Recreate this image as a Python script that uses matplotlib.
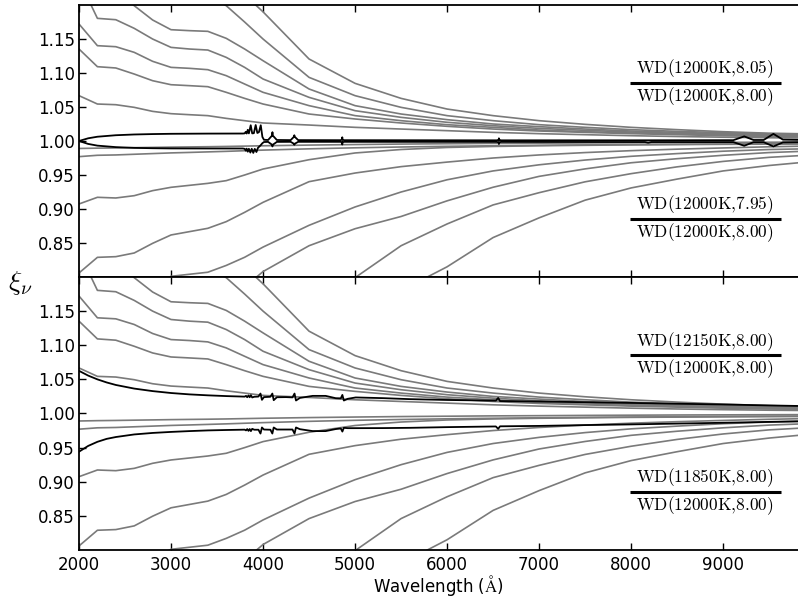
import matplotlib

matplotlib.use("Agg")
import matplotlib.pyplot as plt

plt.rcParams["mathtext.fontset"] = "cm"
plt.rcParams["font.family"] = "DejaVu Sans"
plt.rcParams["font.size"] = 12

# wavelength grid (Angstrom) of the background ratio curves
grid = [2000, 2200, 2400, 2600, 2800, 3000, 3200, 3400, 3600, 3800, 4000,
        4500, 5000, 5500, 6000, 6500, 7000, 7500, 8000, 8500, 9000, 9500, 9900]

# background family, above unity
bg_up1 = [1.0667, 1.0544, 1.0534, 1.0495, 1.0436, 1.0402, 1.0387, 1.0373, 1.0333, 1.0299, 1.0265,
          1.0235, 1.0201, 1.0176, 1.0152, 1.0127, 1.0108, 1.0093, 1.0078, 1.0066, 1.0056, 1.0048, 1.0044]
bg_up2 = [1.1353, 1.1093, 1.1074, 1.0985, 1.0887, 1.0828, 1.0814, 1.0799, 1.0716, 1.0627, 1.0544,
          1.0397, 1.0324, 1.0265, 1.0216, 1.0176, 1.0147, 1.0127, 1.0108, 1.0093, 1.0078, 1.0066, 1.0060]
bg_up3 = [1.1721, 1.1402, 1.1387, 1.1304, 1.1172, 1.1083, 1.1069, 1.1049, 1.0961, 1.0838, 1.0716,
          1.0520, 1.0373, 1.0299, 1.0240, 1.0201, 1.0162, 1.0137, 1.0118, 1.0103, 1.0088, 1.0075, 1.0068]
bg_up4 = [1.2370, 1.1804, 1.1784, 1.1657, 1.1500, 1.1377, 1.1353, 1.1338, 1.1230, 1.1083, 1.0912,
          1.0642, 1.0446, 1.0348, 1.0275, 1.0225, 1.0186, 1.0157, 1.0132, 1.0113, 1.0098, 1.0084, 1.0076]
bg_up5 = [1.2900, 1.2300, 1.2250, 1.1990, 1.1780, 1.1637, 1.1623, 1.1613, 1.1510, 1.1353, 1.1181,
          1.0765, 1.0520, 1.0397, 1.0314, 1.0250, 1.0211, 1.0176, 1.0147, 1.0127, 1.0108, 1.0093, 1.0084]
bg_up6 = [1.3500, 1.2800, 1.2750, 1.2550, 1.2350, 1.2200, 1.2170, 1.2150, 1.1990, 1.1750, 1.1500,
          1.0936, 1.0667, 1.0495, 1.0373, 1.0299, 1.0240, 1.0201, 1.0167, 1.0142, 1.0123, 1.0105, 1.0095]
bg_up7 = [1.4200, 1.3400, 1.3350, 1.3100, 1.2850, 1.2700, 1.2650, 1.2600, 1.2400, 1.2150, 1.1900,
          1.1206, 1.0848, 1.0627, 1.0470, 1.0373, 1.0299, 1.0245, 1.0201, 1.0167, 1.0137, 1.0115, 1.0105]

# background family, below unity
bg_lo1 = [0.9890, 0.9895, 0.9898, 0.9902, 0.9906, 0.9910, 0.9913, 0.9916, 0.9920, 0.9925, 0.9930,
          0.9940, 0.9948, 0.9955, 0.9960, 0.9965, 0.9968, 0.9972, 0.9975, 0.9978, 0.9980, 0.9982, 0.9983]
bg_lo2 = [0.9770, 0.9790, 0.9795, 0.9805, 0.9815, 0.9825, 0.9832, 0.9840, 0.9848, 0.9857, 0.9866,
          0.9885, 0.9900, 0.9912, 0.9922, 0.9930, 0.9937, 0.9943, 0.9948, 0.9952, 0.9956, 0.9960, 0.9962]
bg_lo3 = [0.9074, 0.9172, 0.9162, 0.9196, 0.9270, 0.9319, 0.9348, 0.9377, 0.9417, 0.9500, 0.9588,
          0.9725, 0.9824, 0.9875, 0.9905, 0.9920, 0.9930, 0.9937, 0.9943, 0.9947, 0.9951, 0.9954, 0.9956]
bg_lo4 = [0.8059, 0.8289, 0.8299, 0.8353, 0.8495, 0.8618, 0.8667, 0.8716, 0.8814, 0.8951, 0.9098,
          0.9402, 0.9529, 0.9623, 0.9690, 0.9750, 0.9795, 0.9830, 0.9858, 0.9880, 0.9898, 0.9915, 0.9925]
bg_lo5 = [0.7200, 0.7550, 0.7580, 0.7680, 0.7860, 0.8010, 0.8040, 0.8070, 0.8170, 0.8290, 0.8440,
          0.8760, 0.9030, 0.9250, 0.9430, 0.9560, 0.9650, 0.9720, 0.9775, 0.9815, 0.9850, 0.9875, 0.9885]
bg_lo6 = [0.6200, 0.6700, 0.6750, 0.6900, 0.7150, 0.7350, 0.7400, 0.7450, 0.7620, 0.7850, 0.8080,
          0.8460, 0.8710, 0.8890, 0.9120, 0.9320, 0.9480, 0.9590, 0.9680, 0.9740, 0.9790, 0.9830, 0.9850]
bg_lo7 = [0.4500, 0.5000, 0.5100, 0.5300, 0.5600, 0.5900, 0.6000, 0.6100, 0.6400, 0.6800, 0.7200,
          0.7600, 0.7990, 0.8460, 0.8780, 0.9060, 0.9240, 0.9400, 0.9520, 0.9620, 0.9700, 0.9760, 0.9790]
bg_lo8 = [0.4000, 0.4500, 0.4600, 0.4800, 0.5100, 0.5400, 0.5500, 0.5600, 0.5900, 0.6200, 0.6500,
          0.7000, 0.7400, 0.7800, 0.8150, 0.8580, 0.8870, 0.9130, 0.9310, 0.9440, 0.9560, 0.9640, 0.9690]

background = [bg_up1, bg_up2, bg_up3, bg_up4, bg_up5, bg_up6, bg_up7,
              bg_lo1, bg_lo2, bg_lo3, bg_lo4, bg_lo5, bg_lo6, bg_lo7, bg_lo8]

# surface gravity ratios, 12000 K
logg_hi_wave = [2000, 2100, 2200, 2400, 2600, 2800, 3000, 3400, 3780, 3800, 3812, 3822, 3834, 3846,
                3866, 3882, 3900, 3920, 3938, 3955, 3975, 3993, 4010, 4055, 4098, 4102, 4106, 4150,
                4300, 4338, 4340, 4342, 4382, 4840, 4858, 4861, 4864, 4882, 6540, 6561, 6563, 6565,
                6586, 8000, 9110, 9229, 9330, 9440, 9546, 9650, 9900]
logg_hi_ratio = [1.0000, 1.0040, 1.0063, 1.0085, 1.0096, 1.0102, 1.0106, 1.0109, 1.0110, 1.0112,
                 1.0135, 1.0110, 1.0165, 1.0112, 1.0232, 1.0112, 1.0115, 1.0235, 1.0118, 1.0130,
                 1.0232, 1.0060, 1.0018, 1.0015, 1.0080, 1.0130, 1.0080, 1.0015, 1.0013, 1.0065,
                 1.0085, 1.0065, 1.0013, 1.0012, 1.0020, 1.0055, 1.0020, 1.0012, 1.0010, 1.0018,
                 1.0040, 1.0018, 1.0010, 1.0010, 1.0012, 1.0068, 1.0015, 1.0015, 1.0105, 1.0020,
                 1.0015]

logg_lo_wave = [2000, 2100, 2200, 2400, 2600, 2800, 3000, 3400, 3780, 3800, 3812, 3822, 3834, 3846,
                3862, 3877, 3894, 3910, 3928, 3945, 3970, 3993, 4010, 4055, 4098, 4102, 4106, 4150,
                4300, 4338, 4340, 4342, 4382, 4840, 4858, 4861, 4864, 4882, 6540, 6561, 6563, 6565,
                6586, 8150, 8185, 8220, 9110, 9229, 9330, 9440, 9546, 9650, 9900]
logg_lo_ratio = [1.0000, 0.9957, 0.9932, 0.9910, 0.9899, 0.9894, 0.9891, 0.9890, 0.9890, 0.9885,
                 0.9858, 0.9888, 0.9843, 0.9886, 0.9830, 0.9886, 0.9825, 0.9884, 0.9838, 0.9900,
                 0.9932, 0.9968, 0.9985, 0.9987, 0.9945, 0.9920, 0.9945, 0.9987, 0.9988, 0.9958,
                 0.9945, 0.9958, 0.9988, 0.9988, 0.9982, 0.9948, 0.9982, 0.9988, 0.9987, 0.9980,
                 0.9955, 0.9980, 0.9987, 0.9985, 0.9975, 0.9985, 0.9984, 0.9930, 0.9983, 0.9983,
                 0.9920, 0.9980, 0.9984]

# temperature ratios, log g = 8.00
teff_wave = [2000, 2100, 2200, 2300, 2400, 2600, 2800, 3000, 3200, 3400, 3600, 3800, 3815, 3828,
             3842, 3855, 3868, 3882, 3905, 3950, 3972, 3988, 4010, 4080, 4101, 4116, 4150, 4250,
             4320, 4342, 4358, 4400, 4540, 4680, 4790, 4845, 4862, 4878, 4920, 5007, 5300, 5600,
             6000, 6530, 6555, 6575, 7000, 7500, 8000, 8500, 9000, 9500, 9900]
teff_hot_ratio = [1.0625, 1.0555, 1.0500, 1.0455, 1.0418, 1.0365, 1.0328, 1.0300, 1.0280, 1.0266,
                  1.0255, 1.0247, 1.0258, 1.0238, 1.0265, 1.0238, 1.0268, 1.0235, 1.0245, 1.0248,
                  1.0292, 1.0200, 1.0240, 1.0245, 1.0292, 1.0195, 1.0238, 1.0240, 1.0236, 1.0292,
                  1.0190, 1.0228, 1.0258, 1.0258, 1.0224, 1.0222, 1.0272, 1.0190, 1.0215, 1.0235,
                  1.0225, 1.0210, 1.0198, 1.0188, 1.0228, 1.0182, 1.0176, 1.0165, 1.0155, 1.0143,
                  1.0132, 1.0118, 1.0108]
teff_cool_ratio = [0.9440, 0.9525, 0.9585, 0.9628, 0.9655, 0.9693, 0.9715, 0.9730, 0.9742, 0.9752,
                   0.9758, 0.9763, 0.9752, 0.9772, 0.9745, 0.9772, 0.9742, 0.9775, 0.9762, 0.9762,
                   0.9706, 0.9795, 0.9765, 0.9762, 0.9706, 0.9795, 0.9765, 0.9765, 0.9765, 0.9706,
                   0.9795, 0.9770, 0.9742, 0.9742, 0.9772, 0.9780, 0.9735, 0.9790, 0.9785, 0.9785,
                   0.9786, 0.9790, 0.9800, 0.9810, 0.9775, 0.9812, 0.9818, 0.9830, 0.9840, 0.9852,
                   0.9864, 0.9877, 0.9888]

top_labels = (r"$\mathrm{WD(12000K{,}8.05)}$", r"$\mathrm{WD(12000K{,}7.95)}$")
bottom_labels = (r"$\mathrm{WD(12150K{,}8.00)}$", r"$\mathrm{WD(11850K{,}8.00)}$")
reference_label = r"$\mathrm{WD(12000K{,}8.00)}$"

fig = plt.figure(figsize=(7.98, 5.98), dpi=100)
ax_top = fig.add_axes([0.099, 0.5368, 0.911, 0.4548])
ax_bot = fig.add_axes([0.099, 0.0803, 0.911, 0.4565])


def draw_fraction(ax, num, den, y_bar):
    xc, x0, x1 = 8800, 7990, 9630
    ax.hlines(y_bar, x0, x1, color="black", lw=2.2, zorder=5)
    ax.text(xc, y_bar + 0.021, num, ha="center", va="center", fontsize=12.5)
    ax.text(xc, y_bar - 0.020, den, ha="center", va="center", fontsize=12.5)


for ax, curves, labels in (
    (ax_top, (logg_hi_wave, logg_hi_ratio, logg_lo_wave, logg_lo_ratio), top_labels),
    (ax_bot, (teff_wave, teff_hot_ratio, teff_wave, teff_cool_ratio), bottom_labels),
):
    for series in background:
        ax.plot(grid, series, color="#7a7a7a", lw=1.2, zorder=2)
    ax.plot(curves[0], curves[1], color="black", lw=1.3, zorder=3)
    ax.plot(curves[2], curves[3], color="black", lw=1.3, zorder=3)

    draw_fraction(ax, labels[0], reference_label, 1.085)
    draw_fraction(ax, labels[1], reference_label, 0.885)

    ax.set_xlim(2000, 9900)
    ax.set_ylim(0.80, 1.20)
    ax.set_xticks(range(2000, 10000, 1000))
    ax.set_yticks([0.85, 0.90, 0.95, 1.00, 1.05, 1.10, 1.15])
    ax.set_yticklabels([f"{v:.2f}" for v in ax.get_yticks()])
    ax.tick_params(direction="in", top=True, bottom=True, left=True, right=False,
                   length=5, width=1.0)
    ax.tick_params(axis="y", pad=3)
    ax.tick_params(axis="x", pad=4)
    for side in ax.spines.values():
        side.set_linewidth(1.3)

ax_top.tick_params(labelbottom=False)
ax_bot.set_xlabel(r"Wavelength ($\mathrm{\AA}$)", labelpad=1)
ax_bot.xaxis.set_label_coords(0.494, -0.085)
fig.text(0.025, 1 - 283 / 598, r"$\xi_\nu$", fontsize=20, ha="center", va="center")

fig.savefig("out.png", dpi=100)
